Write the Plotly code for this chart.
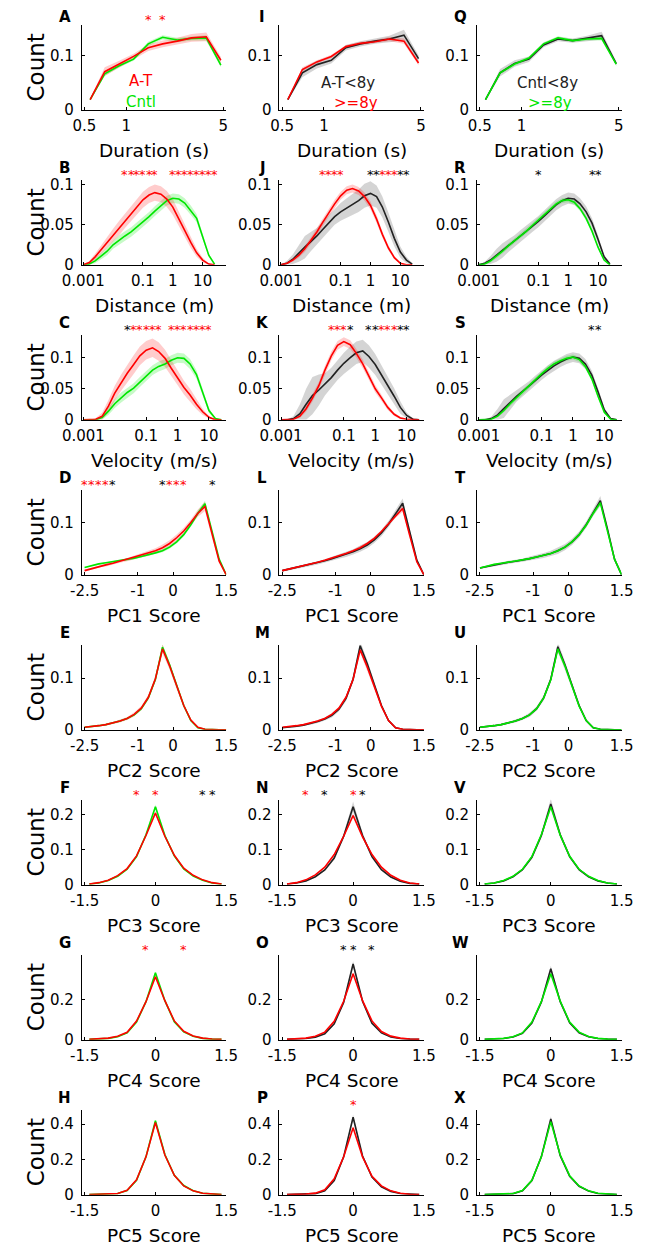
import math
import plotly.graph_objects as go

# ---- x grids ----
dur_x = [0.55, 0.70, 0.89, 1.13, 1.44, 1.83, 2.33, 2.96, 3.77, 4.8]
log_x = [0.001, 0.0016, 0.0025, 0.004, 0.0063, 0.01, 0.016, 0.025, 0.04, 0.063, 0.1,
         0.16, 0.25, 0.4, 0.63, 1, 1.6, 2.5, 4, 6.3, 10, 16, 25]
pcw_x = [-2.5, -2.3, -2.1, -1.9, -1.7, -1.5, -1.3, -1.1, -0.9, -0.7, -0.5, -0.3, -0.1,
         0.1, 0.3, 0.5, 0.7, 0.9, 1.1, 1.3, 1.5]
pc_x = [-1.4, -1.2, -1.0, -0.8, -0.6, -0.4, -0.2, 0.0, 0.2, 0.4, 0.6, 0.8, 1.0, 1.2, 1.4]

# ---- duration ----
A_grn = [0.019, 0.066, 0.081, 0.093, 0.121, 0.133, 0.128, 0.131, 0.132, 0.082]
A_red = [0.019, 0.070, 0.084, 0.098, 0.114, 0.121, 0.126, 0.132, 0.134, 0.091]
A_grn_sem = [0.001, 0.004, 0.003, 0.003, 0.004, 0.004, 0.004, 0.004, 0.005, 0.004]
A_red_sem = [0.002, 0.008, 0.006, 0.005, 0.006, 0.006, 0.006, 0.007, 0.008, 0.006]
I_blk = [0.019, 0.068, 0.083, 0.091, 0.114, 0.121, 0.126, 0.130, 0.137, 0.094]
I_red = [0.019, 0.074, 0.088, 0.098, 0.116, 0.122, 0.125, 0.130, 0.126, 0.086]
I_blk_sem = [0.002, 0.008, 0.007, 0.006, 0.005, 0.005, 0.005, 0.006, 0.010, 0.006]
I_red_sem = [0.001, 0.004, 0.003, 0.003, 0.003, 0.003, 0.003, 0.004, 0.005, 0.004]
Q_blk = [0.019, 0.068, 0.085, 0.093, 0.119, 0.130, 0.127, 0.131, 0.136, 0.085]
Q_grn = [0.019, 0.068, 0.084, 0.095, 0.121, 0.132, 0.127, 0.130, 0.131, 0.084]
Q_blk_sem = [0.001, 0.007, 0.006, 0.005, 0.004, 0.004, 0.004, 0.005, 0.007, 0.004]
Q_grn_sem = [0.001, 0.003, 0.003, 0.003, 0.003, 0.003, 0.003, 0.003, 0.004, 0.003]

# ---- distance ----
B_grn = [0, 0.001, 0.005, 0.011, 0.017, 0.025, 0.031, 0.036, 0.041, 0.047, 0.053, 0.060,
         0.067, 0.074, 0.080, 0.083, 0.082, 0.077, 0.068, 0.058, 0.035, 0.012, 0.001]
B_red = [0, 0.003, 0.010, 0.019, 0.028, 0.037, 0.046, 0.055, 0.064, 0.073, 0.081, 0.087,
         0.090, 0.088, 0.082, 0.072, 0.058, 0.043, 0.028, 0.015, 0.006, 0.001, 0]
B_grn_sem = [0, 0.001, 0.003, 0.004, 0.005, 0.005, 0.006, 0.006, 0.006, 0.006, 0.006, 0.006,
             0.006, 0.006, 0.006, 0.006, 0.006, 0.006, 0.006, 0.005, 0.004, 0.002, 0.001]
B_red_sem = [0, 0.002, 0.004, 0.006, 0.007, 0.008, 0.009, 0.009, 0.010, 0.010, 0.010, 0.010,
             0.010, 0.010, 0.010, 0.010, 0.009, 0.008, 0.007, 0.005, 0.003, 0.001, 0]
J_blk = [0, 0.002, 0.007, 0.014, 0.022, 0.029, 0.036, 0.044, 0.052, 0.060, 0.066, 0.071,
         0.075, 0.080, 0.086, 0.089, 0.085, 0.072, 0.053, 0.033, 0.016, 0.006, 0.001]
J_red = [0, 0.002, 0.006, 0.012, 0.020, 0.030, 0.041, 0.053, 0.065, 0.076, 0.086, 0.093,
         0.095, 0.092, 0.085, 0.074, 0.057, 0.038, 0.021, 0.009, 0.002, 0, 0]
J_blk_sem = [0, 0.003, 0.006, 0.010, 0.014, 0.012, 0.010, 0.010, 0.010, 0.010, 0.011, 0.012,
             0.013, 0.014, 0.015, 0.015, 0.014, 0.013, 0.012, 0.010, 0.007, 0.004, 0.001]
J_red_sem = [0, 0.001, 0.002, 0.003, 0.004, 0.004, 0.005, 0.005, 0.005, 0.005, 0.005, 0.005,
             0.005, 0.005, 0.005, 0.005, 0.005, 0.004, 0.003, 0.002, 0.001, 0, 0]
R_blk = [0, 0.002, 0.006, 0.012, 0.018, 0.024, 0.030, 0.036, 0.042, 0.048, 0.054, 0.061,
         0.068, 0.075, 0.080, 0.083, 0.082, 0.076, 0.066, 0.052, 0.032, 0.010, 0.001]
R_grn = [0, 0.001, 0.005, 0.011, 0.017, 0.024, 0.030, 0.036, 0.042, 0.049, 0.056, 0.063,
         0.070, 0.076, 0.080, 0.081, 0.078, 0.070, 0.058, 0.042, 0.022, 0.006, 0]
R_blk_sem = [0, 0.002, 0.005, 0.008, 0.009, 0.008, 0.007, 0.007, 0.007, 0.007, 0.007, 0.007,
             0.007, 0.007, 0.007, 0.007, 0.007, 0.007, 0.007, 0.006, 0.005, 0.003, 0.001]
R_grn_sem = [0, 0.001, 0.002, 0.003, 0.003, 0.003, 0.003, 0.003, 0.003, 0.003, 0.003, 0.003,
             0.003, 0.003, 0.003, 0.003, 0.003, 0.003, 0.003, 0.003, 0.002, 0.001, 0]

# ---- velocity ----
C_grn = [0, 0, 0, 0.004, 0.014, 0.026, 0.036, 0.044, 0.051, 0.061, 0.071, 0.080,
         0.086, 0.090, 0.096, 0.100, 0.099, 0.090, 0.073, 0.045, 0.015, 0.002, 0]
C_red = [0, 0, 0.001, 0.006, 0.022, 0.043, 0.060, 0.075, 0.089, 0.103, 0.112, 0.116,
         0.110, 0.099, 0.083, 0.068, 0.052, 0.040, 0.025, 0.013, 0.004, 0, 0]
C_grn_sem = [0, 0, 0, 0.003, 0.006, 0.007, 0.008, 0.008, 0.008, 0.008, 0.008, 0.008,
             0.008, 0.008, 0.008, 0.008, 0.008, 0.008, 0.007, 0.006, 0.004, 0.001, 0]
C_red_sem = [0, 0, 0.002, 0.006, 0.010, 0.012, 0.013, 0.014, 0.015, 0.015, 0.015, 0.015,
             0.015, 0.014, 0.013, 0.012, 0.011, 0.010, 0.008, 0.005, 0.002, 0, 0]
K_blk = [0, 0, 0.002, 0.010, 0.025, 0.039, 0.048, 0.057, 0.068, 0.080, 0.091, 0.100,
         0.108, 0.111, 0.102, 0.089, 0.072, 0.055, 0.038, 0.020, 0.007, 0.001, 0]
K_red = [0, 0, 0.001, 0.006, 0.018, 0.035, 0.055, 0.080, 0.103, 0.120, 0.126, 0.121,
         0.107, 0.090, 0.070, 0.050, 0.035, 0.020, 0.009, 0.003, 0.001, 0, 0]
K_blk_sem = [0, 0, 0.004, 0.015, 0.025, 0.030, 0.025, 0.018, 0.016, 0.016, 0.017, 0.018,
             0.018, 0.018, 0.018, 0.017, 0.016, 0.015, 0.013, 0.010, 0.005, 0.001, 0]
K_red_sem = [0, 0, 0.001, 0.003, 0.005, 0.006, 0.006, 0.007, 0.007, 0.007, 0.007, 0.007,
             0.007, 0.007, 0.006, 0.006, 0.005, 0.004, 0.003, 0.002, 0.001, 0, 0]
S_blk = [0, 0, 0.002, 0.008, 0.018, 0.028, 0.038, 0.046, 0.054, 0.063, 0.072, 0.080,
         0.087, 0.093, 0.098, 0.101, 0.099, 0.090, 0.072, 0.045, 0.016, 0.002, 0]
S_grn = [0, 0, 0.001, 0.006, 0.015, 0.026, 0.036, 0.045, 0.054, 0.064, 0.074, 0.083,
         0.090, 0.095, 0.099, 0.101, 0.097, 0.086, 0.066, 0.038, 0.012, 0.001, 0]
S_blk_sem = [0, 0, 0.003, 0.010, 0.015, 0.012, 0.009, 0.008, 0.008, 0.008, 0.008, 0.008,
             0.008, 0.008, 0.008, 0.008, 0.008, 0.008, 0.007, 0.006, 0.004, 0.001, 0]
S_grn_sem = [0, 0, 0.001, 0.002, 0.003, 0.004, 0.004, 0.004, 0.004, 0.004, 0.004, 0.004,
             0.004, 0.004, 0.004, 0.004, 0.004, 0.004, 0.004, 0.003, 0.002, 0.001, 0]

# ---- PC1 ----
D_grn = [0.014, 0.018, 0.021, 0.023, 0.025, 0.027, 0.029, 0.032, 0.035, 0.038, 0.042,
         0.046, 0.053, 0.063, 0.077, 0.096, 0.118, 0.136, 0.085, 0.030, 0.0]
D_red = [0.008, 0.012, 0.016, 0.019, 0.022, 0.026, 0.029, 0.033, 0.037, 0.041, 0.046,
         0.052, 0.060, 0.071, 0.084, 0.100, 0.118, 0.131, 0.076, 0.026, 0.0]
L_blk = [0.008, 0.011, 0.014, 0.017, 0.020, 0.023, 0.027, 0.031, 0.035, 0.039, 0.044,
         0.050, 0.057, 0.067, 0.080, 0.097, 0.118, 0.137, 0.082, 0.028, 0.0]
L_red = [0.008, 0.011, 0.014, 0.017, 0.020, 0.024, 0.028, 0.032, 0.036, 0.041, 0.046,
         0.052, 0.060, 0.070, 0.083, 0.098, 0.114, 0.127, 0.075, 0.025, 0.0]
T_blk = [0.013, 0.016, 0.019, 0.022, 0.024, 0.026, 0.028, 0.031, 0.034, 0.037, 0.041,
         0.046, 0.053, 0.063, 0.077, 0.096, 0.120, 0.142, 0.088, 0.030, 0.0]
T_grn = [0.013, 0.017, 0.020, 0.022, 0.024, 0.026, 0.028, 0.031, 0.034, 0.037, 0.041,
         0.046, 0.053, 0.063, 0.077, 0.095, 0.118, 0.138, 0.086, 0.030, 0.0]

# ---- PC2 ----
E_grn = [0.005, 0.006, 0.008, 0.010, 0.013, 0.017, 0.022, 0.029, 0.041, 0.062, 0.098,
         0.160, 0.126, 0.085, 0.047, 0.018, 0.004, 0.001, 0, 0, 0]
E_red = [0.005, 0.006, 0.008, 0.010, 0.013, 0.017, 0.022, 0.030, 0.042, 0.063, 0.099,
         0.157, 0.124, 0.084, 0.047, 0.019, 0.005, 0.001, 0, 0, 0]
M_blk = [0.004, 0.005, 0.007, 0.009, 0.012, 0.016, 0.021, 0.028, 0.040, 0.061, 0.098,
         0.163, 0.128, 0.086, 0.047, 0.018, 0.004, 0.001, 0, 0, 0]
M_red = [0.005, 0.006, 0.008, 0.010, 0.013, 0.017, 0.022, 0.030, 0.042, 0.063, 0.098,
         0.155, 0.122, 0.083, 0.046, 0.018, 0.004, 0.001, 0, 0, 0]
U_blk = [0.005, 0.006, 0.008, 0.010, 0.013, 0.017, 0.022, 0.029, 0.041, 0.062, 0.098,
         0.161, 0.126, 0.085, 0.047, 0.018, 0.004, 0.001, 0, 0, 0]
U_grn = [0.005, 0.006, 0.008, 0.010, 0.013, 0.017, 0.022, 0.029, 0.041, 0.062, 0.097,
         0.157, 0.124, 0.084, 0.046, 0.018, 0.004, 0.001, 0, 0, 0]

# shared SEM profiles for the PC panels
semw_small = [0.001, 0.001, 0.001, 0.001, 0.001, 0.001, 0.002, 0.002, 0.002, 0.002, 0.002,
              0.003, 0.003, 0.003, 0.003, 0.004, 0.005, 0.006, 0.004, 0.002, 0]
semw_big = [0.002, 0.002, 0.002, 0.003, 0.003, 0.003, 0.003, 0.004, 0.004, 0.005, 0.005,
            0.006, 0.006, 0.006, 0.006, 0.006, 0.007, 0.009, 0.006, 0.002, 0]
semw2_small = [0.001, 0.001, 0.001, 0.001, 0.001, 0.002, 0.002, 0.002, 0.003, 0.003, 0.004,
               0.006, 0.005, 0.004, 0.003, 0.002, 0.001, 0, 0, 0, 0]
semw2_big = [0.001, 0.001, 0.002, 0.002, 0.002, 0.003, 0.003, 0.004, 0.004, 0.005, 0.006,
             0.009, 0.007, 0.006, 0.004, 0.002, 0.001, 0, 0, 0, 0]
sem_small = [0.001, 0.001, 0.001, 0.001, 0.002, 0.003, 0.004, 0.006, 0.004, 0.003, 0.002,
             0.001, 0.001, 0.001, 0.001]
sem_big = [0.001, 0.001, 0.002, 0.002, 0.003, 0.005, 0.008, 0.015, 0.008, 0.005, 0.003,
           0.002, 0.002, 0.001, 0.001]

# ---- PC3 ----
F_grn = [0.002, 0.005, 0.012, 0.024, 0.044, 0.080, 0.142, 0.222, 0.140, 0.082, 0.045,
         0.025, 0.013, 0.005, 0.002]
F_red = [0.002, 0.006, 0.013, 0.026, 0.046, 0.082, 0.140, 0.204, 0.138, 0.084, 0.047,
         0.027, 0.014, 0.006, 0.002]
N_blk = [0.002, 0.005, 0.011, 0.023, 0.042, 0.076, 0.138, 0.222, 0.140, 0.080, 0.043,
         0.022, 0.010, 0.004, 0.002]
N_red = [0.002, 0.006, 0.014, 0.028, 0.050, 0.086, 0.138, 0.197, 0.136, 0.086, 0.050,
         0.027, 0.013, 0.005, 0.002]
V_blk = [0.002, 0.005, 0.011, 0.023, 0.043, 0.078, 0.140, 0.230, 0.142, 0.080, 0.043,
         0.023, 0.011, 0.005, 0.002]
V_grn = [0.002, 0.005, 0.012, 0.024, 0.044, 0.080, 0.142, 0.222, 0.141, 0.081, 0.044,
         0.024, 0.012, 0.005, 0.002]

# ---- PC4 ----
G_grn = [0.002, 0.004, 0.007, 0.015, 0.034, 0.088, 0.190, 0.335, 0.195, 0.090, 0.039,
         0.017, 0.007, 0.003, 0.002]
G_red = [0.002, 0.004, 0.008, 0.017, 0.037, 0.093, 0.190, 0.315, 0.195, 0.094, 0.042,
         0.019, 0.008, 0.004, 0.002]
O_blk = [0.002, 0.003, 0.006, 0.013, 0.030, 0.080, 0.186, 0.378, 0.192, 0.082, 0.034,
         0.014, 0.006, 0.003, 0.002]
O_red = [0.002, 0.004, 0.008, 0.017, 0.038, 0.092, 0.192, 0.330, 0.195, 0.094, 0.041,
         0.018, 0.008, 0.004, 0.002]
W_blk = [0.002, 0.003, 0.006, 0.014, 0.032, 0.084, 0.188, 0.355, 0.190, 0.085, 0.035,
         0.015, 0.006, 0.003, 0.002]
W_grn = [0.002, 0.004, 0.007, 0.015, 0.034, 0.088, 0.190, 0.330, 0.193, 0.088, 0.038,
         0.016, 0.007, 0.003, 0.002]

# ---- PC5 ----
H_grn = [0.001, 0.002, 0.003, 0.007, 0.024, 0.082, 0.215, 0.420, 0.228, 0.110, 0.052,
         0.023, 0.008, 0.003, 0.001]
H_red = [0.001, 0.002, 0.003, 0.007, 0.025, 0.085, 0.215, 0.410, 0.225, 0.110, 0.050,
         0.022, 0.008, 0.003, 0.001]
P_blk = [0.001, 0.002, 0.003, 0.006, 0.022, 0.080, 0.215, 0.440, 0.220, 0.100, 0.045,
         0.019, 0.007, 0.003, 0.001]
P_red = [0.001, 0.002, 0.004, 0.009, 0.028, 0.090, 0.215, 0.380, 0.215, 0.105, 0.050,
         0.022, 0.008, 0.003, 0.001]
X_blk = [0.001, 0.002, 0.003, 0.006, 0.023, 0.080, 0.215, 0.430, 0.222, 0.105, 0.048,
         0.021, 0.007, 0.003, 0.001]
X_grn = [0.001, 0.002, 0.003, 0.007, 0.024, 0.082, 0.215, 0.415, 0.225, 0.108, 0.050,
         0.022, 0.008, 0.003, 0.001]

# ---- significance stars (x position, colour code) ----
A_stars = ([1.44, 1.83], "rr")
B_stars = ([0.025, 0.04, 0.063, 0.1, 0.16, 0.25, 1, 1.6, 2.5, 4, 6.3, 10, 16, 25], "rrrrrrrrrrrrrr")
C_stars = ([0.025, 0.04, 0.063, 0.1, 0.16, 0.25, 0.63, 1, 1.6, 2.5, 4, 6.3, 10], "krrrrrrrrrrrr")
D_stars = ([-2.5, -2.3, -2.1, -1.9, -1.7, -0.3, -0.1, 0.1, 0.3, 1.1], "rrrrkkrrrk")
F_stars = ([-0.4, 0.0, 1.0, 1.2], "rrkk")
G_stars = ([-0.2, 0.6], "rr")
J_stars = ([0.025, 0.04, 0.063, 0.1, 1, 1.6, 2.5, 4, 6.3, 10, 16], "rrrrkkrrrkk")
K_stars = ([0.04, 0.063, 0.1, 0.16, 0.63, 1, 1.6, 2.5, 4, 6.3, 10], "rrrkkkrrrkk")
N_stars = ([-1.0, -0.6, 0.0, 0.2], "rkrk")
O_stars = ([-0.2, 0.0, 0.4], "kkk")
P_stars = ([0.0], "r")
R_stars = ([0.1, 6.3, 10], "kkk")
S_stars = ([4, 6.3], "kk")

# ---- styling ----
W, H = 645, 1254
FONT = "DejaVu Sans"
RED, GRN, BLK = "#ff0000", "#00e600", "#222222"
BAND = {RED: "rgba(255,0,0,0.2)", GRN: "rgba(0,230,0,0.22)", BLK: "rgba(0,0,0,0.17)"}
CODE = {"r": RED, "g": GRN, "k": "#000000"}
COL_X = [65, 273, 481]
AX_W, AX_H = 152, 86
ROW_TOP = [21 + 156.6 * i for i in range(8)]

rows = [
    dict(title="Duration (s)", type="log", range=[-0.32, 0.72], tv=[0.5, 1, 5], tt=["0.5", "1", "5"],
         ymax=0.156, yt=[0, 0.1]),
    dict(title="Distance (m)", type="log", range=[-3.05, 1.79], tv=[0.001, 0.1, 1, 10],
         tt=["0.001", "0.1", "1", "10"], ymax=0.106, yt=[0, 0.05, 0.1]),
    dict(title="Velocity (m/s)", type="log", range=[-3.05, 1.55], tv=[0.001, 0.1, 1, 10],
         tt=["0.001", "0.1", "1", "10"], ymax=0.137, yt=[0, 0.05, 0.1]),
    dict(title="PC1 Score", type="linear", range=[-2.58, 1.5], tv=[-2.5, -1, 0, 1.5],
         tt=["-2.5", "-1", "0", "1.5"], ymax=0.163, yt=[0, 0.1]),
    dict(title="PC2 Score", type="linear", range=[-2.58, 1.5], tv=[-2.5, -1, 0, 1.5],
         tt=["-2.5", "-1", "0", "1.5"], ymax=0.165, yt=[0, 0.1]),
    dict(title="PC3 Score", type="linear", range=[-1.56, 1.5], tv=[-1.5, 0, 1.5],
         tt=["-1.5", "0", "1.5"], ymax=0.242, yt=[0, 0.1, 0.2]),
    dict(title="PC4 Score", type="linear", range=[-1.56, 1.5], tv=[-1.5, 0, 1.5],
         tt=["-1.5", "0", "1.5"], ymax=0.425, yt=[0, 0.2]),
    dict(title="PC5 Score", type="linear", range=[-1.56, 1.5], tv=[-1.5, 0, 1.5],
         tt=["-1.5", "0", "1.5"], ymax=0.483, yt=[0, 0.2, 0.4]),
]

# (letter, row, col, x, [(mean, sem, colour)], stars)
panels = [
    ("A", 0, 0, dur_x, [(A_grn, A_grn_sem, GRN), (A_red, A_red_sem, RED)], A_stars),
    ("I", 0, 1, dur_x, [(I_blk, I_blk_sem, BLK), (I_red, I_red_sem, RED)], None),
    ("Q", 0, 2, dur_x, [(Q_blk, Q_blk_sem, BLK), (Q_grn, Q_grn_sem, GRN)], None),
    ("B", 1, 0, log_x, [(B_grn, B_grn_sem, GRN), (B_red, B_red_sem, RED)], B_stars),
    ("J", 1, 1, log_x, [(J_blk, J_blk_sem, BLK), (J_red, J_red_sem, RED)], J_stars),
    ("R", 1, 2, log_x, [(R_blk, R_blk_sem, BLK), (R_grn, R_grn_sem, GRN)], R_stars),
    ("C", 2, 0, log_x, [(C_grn, C_grn_sem, GRN), (C_red, C_red_sem, RED)], C_stars),
    ("K", 2, 1, log_x, [(K_blk, K_blk_sem, BLK), (K_red, K_red_sem, RED)], K_stars),
    ("S", 2, 2, log_x, [(S_blk, S_blk_sem, BLK), (S_grn, S_grn_sem, GRN)], S_stars),
    ("D", 3, 0, pcw_x, [(D_grn, semw_small, GRN), (D_red, semw_big, RED)], D_stars),
    ("L", 3, 1, pcw_x, [(L_blk, semw_big, BLK), (L_red, semw_small, RED)], None),
    ("T", 3, 2, pcw_x, [(T_blk, semw_big, BLK), (T_grn, semw_small, GRN)], None),
    ("E", 4, 0, pcw_x, [(E_grn, semw2_small, GRN), (E_red, semw2_big, RED)], None),
    ("M", 4, 1, pcw_x, [(M_blk, semw2_big, BLK), (M_red, semw2_small, RED)], None),
    ("U", 4, 2, pcw_x, [(U_blk, semw2_big, BLK), (U_grn, semw2_small, GRN)], None),
    ("F", 5, 0, pc_x, [(F_grn, sem_small, GRN), (F_red, sem_small, RED)], F_stars),
    ("N", 5, 1, pc_x, [(N_blk, sem_big, BLK), (N_red, sem_small, RED)], N_stars),
    ("V", 5, 2, pc_x, [(V_blk, sem_big, BLK), (V_grn, sem_small, GRN)], None),
    ("G", 6, 0, pc_x, [(G_grn, sem_small, GRN), (G_red, sem_small, RED)], G_stars),
    ("O", 6, 1, pc_x, [(O_blk, sem_big, BLK), (O_red, sem_small, RED)], O_stars),
    ("W", 6, 2, pc_x, [(W_blk, sem_big, BLK), (W_grn, sem_small, GRN)], None),
    ("H", 7, 0, pc_x, [(H_grn, sem_small, GRN), (H_red, sem_small, RED)], None),
    ("P", 7, 1, pc_x, [(P_blk, sem_big, BLK), (P_red, sem_small, RED)], P_stars),
    ("X", 7, 2, pc_x, [(X_blk, sem_big, BLK), (X_grn, sem_small, GRN)], None),
]


def fmt(v):
    return "0" if v == 0 else ("%g" % v)


fig = go.Figure()
annotations = []
layout = {}

for k, (letter, r, c, xs, series, stars) in enumerate(panels, start=1):
    spec = rows[r]
    sfx = "" if k == 1 else str(k)
    x0 = COL_X[c]
    top = ROW_TOP[r]
    layout["xaxis" + sfx] = dict(
        domain=[x0 / W, (x0 + AX_W) / W], anchor="y" + sfx, type=spec["type"],
        range=spec["range"], tickvals=spec["tv"], ticktext=spec["tt"],
        showline=True, linecolor="black", linewidth=1, ticks="inside", ticklen=3,
        tickcolor="black", showgrid=False, zeroline=False, ticklabelstandoff=2,
        tickfont=dict(family=FONT, size=15, color="black"))
    layout["yaxis" + sfx] = dict(
        domain=[1 - (top + AX_H) / H, 1 - top / H], anchor="x" + sfx,
        range=[0, spec["ymax"]], tickvals=spec["yt"], ticktext=[fmt(v) for v in spec["yt"]],
        showline=True, linecolor="black", linewidth=1, ticks="inside", ticklen=3,
        tickcolor="black", showgrid=False, zeroline=False, ticklabelstandoff=4,
        tickfont=dict(family=FONT, size=15, color="black"))
    xa, ya = "x" + sfx, "y" + sfx

    # shaded SEM bands first, then lines on top
    for mean, sem, col in series:
        upper = [m + s for m, s in zip(mean, sem)]
        lower = [max(m - s, 0) for m, s in zip(mean, sem)]
        fig.add_trace(go.Scatter(
            x=list(xs) + list(xs)[::-1], y=upper + lower[::-1], fill="toself",
            fillcolor=BAND[col], line=dict(width=0), mode="lines", hoverinfo="skip",
            showlegend=False, xaxis=xa, yaxis=ya))
    for mean, sem, col in series:
        fig.add_trace(go.Scatter(
            x=xs, y=mean, mode="lines", line=dict(color=col, width=1.6),
            showlegend=False, xaxis=xa, yaxis=ya))

    # significance stars just above the axes
    if stars:
        sx, sc = stars
        for xv, ch in zip(sx, sc):
            annotations.append(dict(
                text="*", x=math.log10(xv) if spec["type"] == "log" else xv,
                y=1 - (top - 5) / H, xref=xa, yref="paper", showarrow=False,
                xanchor="center", yanchor="middle",
                font=dict(family=FONT, size=13, color=CODE[ch])))

    # panel letter
    annotations.append(dict(
        text="<b>%s</b>" % letter, x=(x0 - 18) / W, y=1 - (top - (8 if r == 0 else 12)) / H,
        xref="paper", yref="paper", showarrow=False, xanchor="center", yanchor="middle",
        font=dict(family=FONT, size=15, color="black")))
    # x-axis title
    annotations.append(dict(
        text=spec["title"], x=(x0 + AX_W / 2) / W, y=1 - (top + AX_H + 41) / H,
        xref="paper", yref="paper", showarrow=False, xanchor="center", yanchor="middle",
        font=dict(family=FONT, size=18.5, color="black")))
    if c == 0:
        annotations.append(dict(
            text="Count", x=17 / W, y=1 - (top + AX_H / 2) / H, textangle=-90,
            xref="paper", yref="paper", showarrow=False, xanchor="center", yanchor="middle",
            font=dict(family=FONT, size=23, color="black")))

# in-panel legends
legend_text = [
    ("A-T", RED, 127, 78), ("Cntl", GRN, 127, 99),
    ("A-T<8y", BLK, 345, 80), (">=8y", RED, 354, 100),
    ("Cntl<8y", BLK, 555, 80), (">=8y", GRN, 558, 100),
]
for txt, col, px, py in legend_text:
    annotations.append(dict(
        text=txt.replace("<", "&lt;"), x=px / W, y=1 - py / H, xref="paper", yref="paper",
        showarrow=False, xanchor="center", yanchor="middle",
        font=dict(family=FONT, size=15, color=col)))

fig.update_layout(
    width=W, height=H, margin=dict(l=0, r=0, t=0, b=0), autosize=False,
    paper_bgcolor="white", plot_bgcolor="white", annotations=annotations, **layout)

# drop the default page margin so the figure sits at the window origin
fig.write_html("out.html", config={"displayModeBar": False},
               post_script="document.body.style.margin='0px';")
